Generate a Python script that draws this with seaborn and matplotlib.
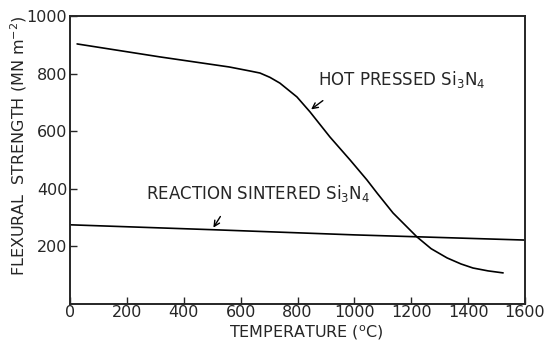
import numpy as np
import matplotlib
matplotlib.use("Agg")
import matplotlib.pyplot as plt
import seaborn as sns

# values
hot_temp = [25, 316, 560, 633, 668, 703, 738, 798, 844, 914, 985, 1044, 1080,
            1136, 1220, 1270, 1326, 1375, 1417, 1470, 1523]
hot_strength = [903, 858, 823, 809, 802, 787, 767, 719, 667, 580, 500, 431, 385,
                316, 233, 192, 160, 139, 125, 115, 108]

rs_temp = [0, 500, 1000, 1600]
rs_strength = [275, 258, 240, 222]

x_ticks = [0, 200, 400, 600, 800, 1000, 1200, 1400, 1600]
y_ticks = [200, 400, 600, 800, 1000]

sns.set_style("ticks")
plt.rcParams['font.family'] = ['DejaVu Sans']
plt.rcParams['xtick.direction'] = 'in'
plt.rcParams['ytick.direction'] = 'in'

fig = plt.figure(figsize=(5.48, 3.42), dpi=100)
ax = fig.add_axes([70 / 548, 1 - 304 / 342, 455 / 548, 288 / 342])

sns.lineplot(x=hot_temp, y=hot_strength, color='black', linewidth=1.2, ax=ax)
sns.lineplot(x=rs_temp, y=rs_strength, color='black', linewidth=1.2, ax=ax)

ax.set_xlim(0, 1600)
ax.set_ylim(0, 1000)
ax.set_xticks(x_ticks)
ax.set_yticks(y_ticks)
ax.tick_params(axis='both', labelsize=11.5, length=5, width=1, pad=2)
ax.tick_params(axis='x', pad=1)
for s in ax.spines.values():
    s.set_visible(True)
    s.set_linewidth(1.4)

ax.set_xlabel('TEMPERATURE ($^{\\mathrm{o}}$C)', fontsize=11.5)
ax.set_ylabel('FLEXURAL  STRENGTH (MN m$^{-2}$)', fontsize=11.5)
ax.xaxis.set_label_coords(0.52, -0.068)
ax.yaxis.set_label_coords(-0.09, 0.55)

ax.text(872, 781, 'HOT PRESSED Si$_3$N$_4$', fontsize=12, va='center', ha='left')
ax.text(267, 385, 'REACTION SINTERED Si$_3$N$_4$', fontsize=12, va='center', ha='left')

arrow = dict(arrowstyle='->', color='black', lw=1.0)
ax.annotate('', xy=(840, 670), xytext=(897, 712), arrowprops=arrow)
ax.annotate('', xy=(499, 257), xytext=(534, 312), arrowprops=arrow)

fig.savefig('out.png', dpi=100)
